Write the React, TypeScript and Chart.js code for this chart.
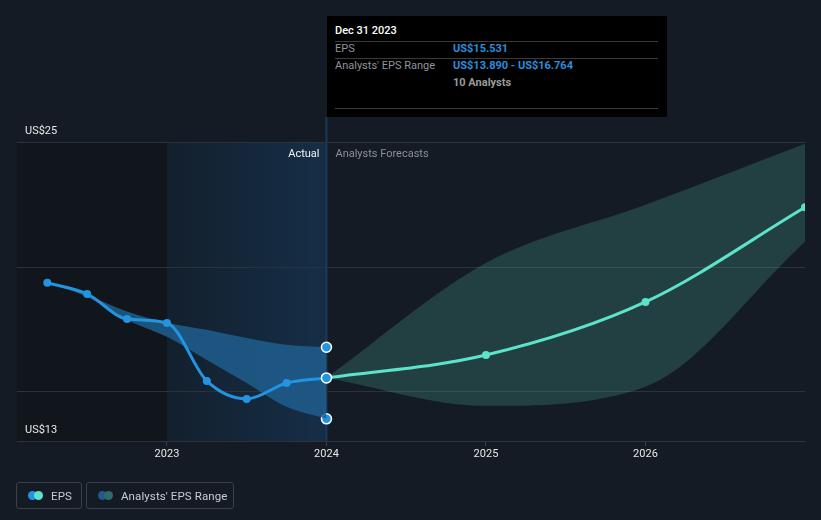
import React, { useEffect, useRef } from "react";
import { Chart, registerables } from "chart.js";

Chart.register(...registerables);

// ---- data ----
const actualDates = [2022.25, 2022.5, 2022.75, 2023.0, 2023.25, 2023.5, 2023.75, 2024.0];
const actualEps = [19.35, 18.9, 17.9, 17.74, 15.41, 14.69, 15.33, 15.531];
const pastRangeLow = [19.35, 18.78, 17.86, 17.18, 16.25, 15.33, 14.37, 13.89];
const pastRangeHigh = [19.35, 18.85, 18.2, 17.75, 17.46, 17.13, 16.86, 16.764];

const forecastDates = [2024, 2025, 2026, 2027];
const forecastEps = [15.531, 16.45, 18.58, 22.38];
const forecastLow = [15.531, 14.41, 15.18, 21.0];
const forecastHigh = [15.531, 20.14, 22.48, 24.93];

const xTickYears = [2023, 2024, 2025, 2026];
const yGridValues = [13, 15, 20, 25];
const yLabelValues = [25, 13];
const analystCount = 10;
const tooltipDate = "Dec 31 2023";

const BLUE = "#2394df";
const TEAL = "#5de2cb";
const FONT = "Roboto, 'Noto Sans', sans-serif";

const pts = (xs: number[], ys: number[]) => xs.map((x, i) => ({ x, y: ys[i] }));

const bgPlugin = {
  id: "bgPlugin",
  beforeDatasetsDraw(chart: any) {
    const { ctx, chartArea, scales } = chart;
    const x = scales.x;
    const y = scales.y;
    const x23 = x.getPixelForValue(2023);
    const x24 = x.getPixelForValue(2024);
    ctx.save();
    ctx.fillStyle = "#11151c";
    ctx.fillRect(chartArea.left, chartArea.top, x23 - chartArea.left, chartArea.bottom - chartArea.top);
    const g = ctx.createLinearGradient(x23, 0, x24, 0);
    g.addColorStop(0, "#13202d");
    g.addColorStop(1, "#152e47");
    ctx.fillStyle = g;
    ctx.fillRect(x23, chartArea.top, x24 - x23, chartArea.bottom - chartArea.top);
    // grid lines over backgrounds
    ctx.strokeStyle = "#2c323c";
    ctx.lineWidth = 1;
    yGridValues.forEach((v) => {
      const py = Math.round(y.getPixelForValue(v)) + 0.5;
      ctx.beginPath();
      ctx.moveTo(chartArea.left, py);
      ctx.lineTo(chartArea.right, py);
      ctx.stroke();
    });
    // vertical marker line
    ctx.strokeStyle = "#1b3a58";
    ctx.lineWidth = 2;
    ctx.beginPath();
    ctx.moveTo(x24, 117);
    ctx.lineTo(x24, chartArea.bottom);
    ctx.stroke();
    // region labels
    ctx.font = `11px ${FONT}`;
    ctx.textBaseline = "middle";
    ctx.textAlign = "right";
    ctx.fillStyle = "#f2f2f2";
    ctx.fillText("Actual", x24 - 7, chartArea.top + 12);
    ctx.textAlign = "left";
    ctx.fillStyle = "#8a8f98";
    ctx.fillText("Analysts Forecasts", x24 + 9, chartArea.top + 12);
    // y labels
    ctx.fillStyle = "#e8e8e8";
    yLabelValues.forEach((v) => {
      ctx.fillText(`US$${v}`, chartArea.left + 8, y.getPixelForValue(v) - 11);
    });
    ctx.restore();
  },
};

function lastOnly(n: number, on: any, off: any) {
  return (c: any) => (c.dataIndex === n - 1 ? on : off);
}

export default function App() {
  const ref = useRef<HTMLCanvasElement | null>(null);

  useEffect(() => {
    if (!ref.current) return;
    const nA = actualDates.length;
    const chart = new Chart(ref.current, {
      type: "line",
      data: {
        datasets: [
          {
            label: "pastHigh",
            data: pts(actualDates, pastRangeHigh),
            borderWidth: 0,
            borderColor: "rgba(0,0,0,0)",
            backgroundColor: "rgba(31,94,142,0.85)",
            fill: "+1",
            cubicInterpolationMode: "monotone",
            pointRadius: lastOnly(nA, 5, 0),
            pointBackgroundColor: BLUE,
            pointBorderColor: "#ffffff",
            pointBorderWidth: 1.5,
            order: 3,
          },
          {
            label: "pastLow",
            data: pts(actualDates, pastRangeLow),
            borderWidth: 0,
            borderColor: "rgba(0,0,0,0)",
            fill: false,
            cubicInterpolationMode: "monotone",
            pointRadius: lastOnly(nA, 5, 0),
            pointBackgroundColor: BLUE,
            pointBorderColor: "#ffffff",
            pointBorderWidth: 1.5,
            order: 3,
          },
          {
            label: "fcHigh",
            data: pts(forecastDates, forecastHigh),
            borderWidth: 0,
            borderColor: "rgba(0,0,0,0)",
            backgroundColor: "rgba(93,226,203,0.18)",
            fill: "+1",
            cubicInterpolationMode: "monotone",
            pointRadius: 0,
            order: 4,
          },
          {
            label: "fcLow",
            data: pts(forecastDates, forecastLow),
            borderWidth: 0,
            borderColor: "rgba(0,0,0,0)",
            fill: false,
            cubicInterpolationMode: "monotone",
            pointRadius: 0,
            order: 4,
          },
          {
            label: "EPS",
            data: pts(actualDates, actualEps),
            borderColor: BLUE,
            borderWidth: 3,
            fill: false,
            cubicInterpolationMode: "monotone",
            pointRadius: lastOnly(nA, 5, 4),
            pointBackgroundColor: BLUE,
            pointBorderColor: lastOnly(nA, "#ffffff", BLUE),
            pointBorderWidth: lastOnly(nA, 1.5, 0),
            order: 0,
          },
          {
            label: "EPS forecast",
            data: pts(forecastDates, forecastEps),
            borderColor: TEAL,
            borderWidth: 3,
            fill: false,
            cubicInterpolationMode: "monotone",
            pointRadius: (c: any) => (c.dataIndex === 0 ? 0 : 4),
            pointBackgroundColor: TEAL,
            pointBorderWidth: 0,
            order: 1,
          },
        ],
      },
      plugins: [bgPlugin],
      options: {
        animation: false,
        responsive: false,
        events: [],
        layout: { padding: { left: 17, right: 16, top: 142, bottom: 54 } },
        plugins: {
          legend: { display: false },
          tooltip: { enabled: false },
        },
        scales: {
          x: {
            type: "linear",
            min: 2022.06,
            max: 2027,
            afterBuildTicks: (s: any) => {
              s.ticks = xTickYears.map((v) => ({ value: v }));
            },
            afterFit: (s: any) => {
              s.height = 25;
            },
            border: { display: false },
            grid: { drawOnChartArea: false, drawTicks: true, tickLength: 5, color: "#3a404a" },
            ticks: {
              color: "#e6e6e6",
              padding: 2,
              font: { size: 11, family: FONT },
              callback: (v: any) => String(v),
              maxRotation: 0,
            },
          },
          y: {
            type: "linear",
            min: 13,
            max: 25,
            afterBuildTicks: (s: any) => {
              s.ticks = yGridValues.map((v) => ({ value: v }));
            },
            afterFit: (s: any) => {
              s.width = 0;
            },
            border: { display: false },
            grid: { display: false },
            ticks: { display: false },
          },
        },
      },
    } as any);
    return () => chart.destroy();
  }, []);

  const last = actualEps.length - 1;
  const labelStyle: React.CSSProperties = { position: "absolute", left: 8, color: "#8f949b" };
  const valStyle: React.CSSProperties = { position: "absolute", left: 126, color: "#2a8fdc", fontWeight: 700 };
  const sep = (top: number): React.CSSProperties => ({
    position: "absolute",
    left: 8,
    width: 323,
    top,
    height: 1,
    background: "#3a3a3a",
  });
  const dot = (left: number, color: string): React.CSSProperties => ({
    position: "absolute",
    left,
    top: 8,
    width: 9,
    height: 9,
    borderRadius: "50%",
    background: color,
  });
  const legendBox = (left: number, width: number): React.CSSProperties => ({
    position: "absolute",
    left,
    top: 482,
    width,
    height: 27,
    border: "1px solid #3a404a",
    borderRadius: 3,
    boxSizing: "border-box",
    color: "#c9ccd1",
    fontSize: 11.5,
    letterSpacing: "0.1px",
  });

  return (
    <div
      style={{
        position: "fixed",
        left: 0,
        top: 0,
        width: 821,
        height: 520,
        background: "#151b24",
        fontFamily: FONT,
        overflow: "hidden",
      }}
    >
      <canvas ref={ref} width={821} height={520} style={{ position: "absolute", left: 0, top: 0 }} />
      <div
        style={{
          position: "absolute",
          left: 327,
          top: 16,
          width: 340,
          height: 101,
          background: "#000",
          fontSize: 11,
          lineHeight: "13px",
        }}
      >
        <div style={{ position: "absolute", left: 8, top: 8, color: "#ffffff", fontWeight: 500 }}>{tooltipDate}</div>
        <div style={sep(25)} />
        <div style={{ ...labelStyle, top: 26 }}>EPS</div>
        <div style={{ ...valStyle, top: 26 }}>US${actualEps[last].toFixed(3)}</div>
        <div style={sep(42)} />
        <div style={{ ...labelStyle, top: 43 }}>Analysts' EPS Range</div>
        <div style={{ ...valStyle, top: 43 }}>
          US${pastRangeLow[last].toFixed(3)} - US${pastRangeHigh[last].toFixed(3)}
        </div>
        <div style={{ ...valStyle, top: 60, color: "#9a9a9a" }}>{analystCount} Analysts</div>
        <div style={sep(92)} />
      </div>
      <div style={legendBox(16, 66)}>
        <div style={dot(11, BLUE)} />
        <div style={dot(17, TEAL)} />
        <div style={{ position: "absolute", left: 34, top: 6 }}>EPS</div>
      </div>
      <div style={legendBox(86, 148)}>
        <div style={dot(11, "#1f5a8a")} />
        <div style={dot(17, "#2f6b6a")} />
        <div style={{ position: "absolute", left: 34, top: 6 }}>Analysts' EPS Range</div>
      </div>
    </div>
  );
}
